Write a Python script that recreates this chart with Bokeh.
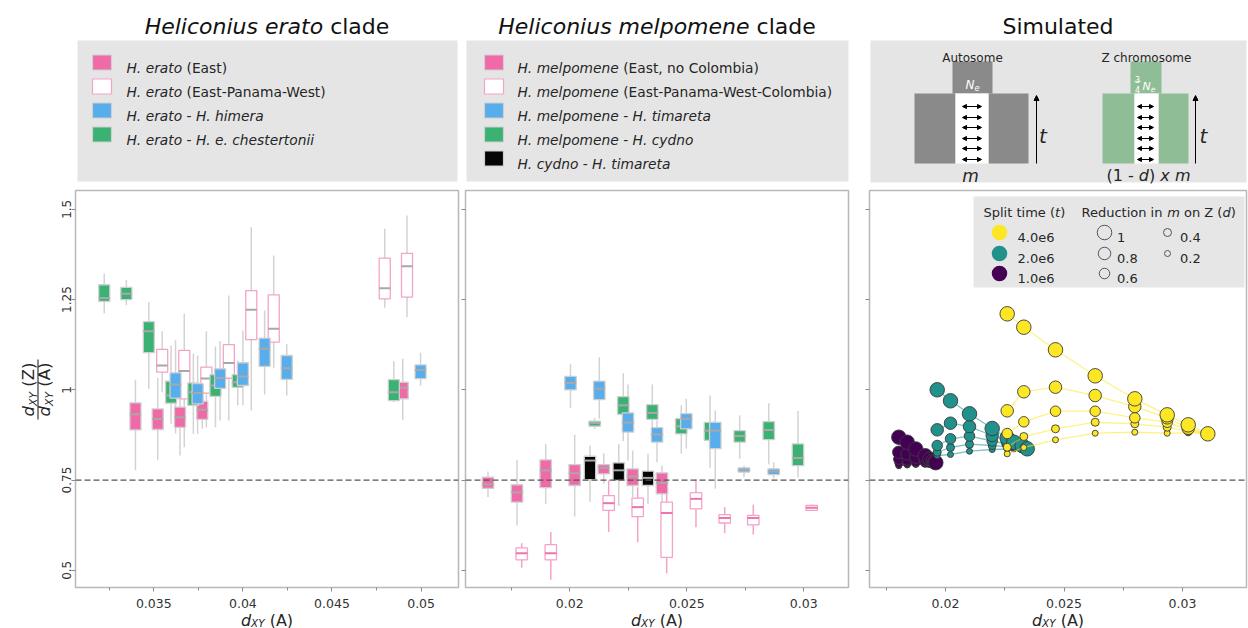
import math
from bokeh.plotting import figure
from bokeh.layouts import row, column
from bokeh.models import (Range1d, FixedTicker, Span, Arrow, NormalHead,
                          ColumnDataSource, CustomJSTickFormatter)
from bokeh.core.properties import value
from bokeh.embed import file_html
from bokeh.resources import INLINE

# ============================ DATA ============================
# box statistics: whisker low, q1, median, q3, whisker high  (ratio dXY(Z)/dXY(A))
# ---- Heliconius erato clade ----
ER_EAST_x   = [0.03397, 0.03522, 0.03647, 0.03772, 0.04897]
ER_EAST_lo  = [0.777, 0.806, 0.818, 0.892, 0.917]
ER_EAST_q1  = [0.889, 0.890, 0.896, 0.918, 0.975]
ER_EAST_med = [0.932, 0.919, 0.924, 0.945, 1.006]
ER_EAST_q3  = [0.964, 0.947, 0.952, 0.968, 1.021]
ER_EAST_hi  = [1.028, 1.033, 1.020, 1.000, 1.086]

ER_EPW_x   = [0.03547, 0.03671, 0.03795, 0.03921, 0.04047, 0.04173, 0.04796, 0.04921]
ER_EPW_lo  = [0.993, 0.841, 0.896, 0.915, 0.943, 1.061, 1.227, 1.201]
ER_EPW_q1  = [1.049, 0.975, 0.991, 1.032, 1.139, 1.132, 1.252, 1.257]
ER_EPW_med = [1.067, 1.052, 1.031, 1.074, 1.222, 1.169, 1.281, 1.342]
ER_EPW_q3  = [1.112, 1.109, 1.063, 1.125, 1.275, 1.263, 1.365, 1.378]
ER_EPW_hi  = [1.162, 1.211, 1.162, 1.261, 1.450, 1.372, 1.446, 1.483]

ER_HIM_x   = [0.03622, 0.03746, 0.03872, 0.04000, 0.04122, 0.04246, 0.04997]
ER_HIM_lo  = [0.879, 0.878, 0.915, 0.957, 0.987, 0.984, 1.012]
ER_HIM_q1  = [0.977, 0.961, 1.004, 1.012, 1.065, 1.029, 1.031]
ER_HIM_med = [1.015, 0.991, 1.033, 1.037, 1.114, 1.060, 1.055]
ER_HIM_q3  = [1.047, 1.017, 1.058, 1.075, 1.143, 1.095, 1.069]
ER_HIM_hi  = [1.137, 1.095, 1.135, 1.164, 1.220, 1.126, 1.103]

ER_CHE_x   = [0.03222, 0.03346, 0.03472, 0.03597, 0.03722, 0.03846, 0.03971, 0.04847]
ER_CHE_lo  = [1.212, 1.234, 1.003, 0.906, 0.878, 0.896, 0.957, 0.966]
ER_CHE_q1  = [1.245, 1.250, 1.103, 0.963, 0.957, 0.982, 1.007, 0.970]
ER_CHE_med = [1.254, 1.266, 1.162, 0.984, 0.993, 1.012, 1.021, 0.993]
ER_CHE_q3  = [1.291, 1.284, 1.189, 1.024, 1.019, 1.042, 1.042, 1.028]
ER_CHE_hi  = [1.322, 1.305, 1.243, 1.123, 1.100, 1.120, 1.081, 1.079]

# ---- Heliconius melpomene clade ----
ME_EAST_x   = [0.016504, 0.017744, 0.018970, 0.020209, 0.021453, 0.022688, 0.023940]
ME_EAST_lo  = [0.703, 0.624, 0.684, 0.649, 0.740, 0.703, 0.661]
ME_EAST_q1  = [0.727, 0.689, 0.729, 0.735, 0.767, 0.735, 0.712]
ME_EAST_med = [0.738, 0.716, 0.777, 0.769, 0.784, 0.760, 0.742]
ME_EAST_q3  = [0.758, 0.737, 0.806, 0.793, 0.793, 0.781, 0.770]
ME_EAST_hi  = [0.774, 0.806, 0.850, 0.876, 0.824, 0.832, 0.790]

ME_EPWC_x   = [0.017945, 0.019188, 0.021662, 0.022902, 0.024141, 0.025393, 0.026620, 0.027842, 0.030338]
ME_EPWC_lo  = [0.507, 0.474, 0.606, 0.578, 0.492, 0.619, 0.603, 0.599, 0.664]
ME_EPWC_q1  = [0.529, 0.529, 0.666, 0.649, 0.536, 0.670, 0.631, 0.626, 0.666]
ME_EPWC_med = [0.547, 0.547, 0.686, 0.675, 0.659, 0.698, 0.645, 0.645, 0.673]
ME_EPWC_q3  = [0.562, 0.571, 0.707, 0.700, 0.689, 0.715, 0.654, 0.652, 0.680]
ME_EPWC_hi  = [0.575, 0.606, 0.749, 0.730, 0.749, 0.752, 0.675, 0.682, 0.682]

ME_TIM_x   = [0.020030, 0.021261, 0.022487, 0.023727, 0.024979, 0.026218, 0.027444, 0.028714]
ME_TIM_lo  = [0.950, 0.920, 0.804, 0.799, 0.837, 0.726, 0.758, 0.754]
ME_TIM_q1  = [1.000, 0.973, 0.883, 0.855, 0.892, 0.837, 0.772, 0.765]
ME_TIM_med = [1.019, 1.003, 0.909, 0.876, 0.920, 0.887, 0.778, 0.774]
ME_TIM_q3  = [1.037, 1.024, 0.936, 0.895, 0.934, 0.910, 0.784, 0.781]
ME_TIM_hi  = [1.072, 1.090, 1.015, 0.915, 0.975, 0.943, 0.790, 0.799]

ME_CYD_x   = [0.021064, 0.022286, 0.023526, 0.024765, 0.025991, 0.027261, 0.028504, 0.029752]
ME_CYD_lo  = [0.892, 0.858, 0.860, 0.823, 0.784, 0.809, 0.793, 0.758]
ME_CYD_q1  = [0.899, 0.932, 0.918, 0.878, 0.860, 0.855, 0.862, 0.790]
ME_CYD_med = [0.908, 0.957, 0.936, 0.899, 0.887, 0.872, 0.889, 0.811]
ME_CYD_q3  = [0.913, 0.981, 0.959, 0.920, 0.910, 0.887, 0.912, 0.850]
ME_CYD_hi  = [0.922, 1.046, 1.015, 0.957, 0.984, 0.929, 0.963, 0.941]

CT_x   = [0.020863, 0.022094, 0.023342]
CT_lo  = [0.689, 0.678, 0.684]
CT_q1  = [0.751, 0.749, 0.735]
CT_med = [0.804, 0.777, 0.756]
CT_q3  = [0.816, 0.798, 0.775]
CT_hi  = [0.846, 0.850, 0.823]

# ---- Simulated ----
SIM_D = [1.0, 0.8, 0.6, 0.4, 0.2]
SIM_T_LABELS = ["4.0e6", "2.0e6", "1.0e6"]

SIM_X_T1 = [0.018030, 0.018384, 0.018747, 0.019148, 0.019346, 0.019473, 0.019549, 0.019591]
SIM_Y_T1 = {
    1.0: [0.8687, 0.8548, 0.8360, 0.8172, 0.8078, 0.8028, 0.8000, 0.7981],
    0.8: [0.8271, 0.8227, 0.8133, 0.8061, 0.8028, 0.8006, 0.7989, 0.7981],
    0.6: [0.8078, 0.8055, 0.8028, 0.8000, 0.7992, 0.7986, 0.7983, 0.7981],
    0.4: [0.7967, 0.7972, 0.7978, 0.7978, 0.7981, 0.7981, 0.7981, 0.7981],
    0.2: [0.7895, 0.7917, 0.7931, 0.7953, 0.7964, 0.7972, 0.7978, 0.7981],
}
SIM_X_T2 = [0.019650, 0.020211, 0.021013, 0.021970, 0.022603, 0.022882, 0.023236, 0.023447]
SIM_Y_T2 = {
    1.0: [1.0000, 0.9695, 0.9335, 0.8928, 0.8670, 0.8548, 0.8457, 0.8366],
    0.8: [0.8892, 0.9075, 0.8983, 0.8734, 0.8582, 0.8499, 0.8429, 0.8366],
    0.6: [0.8457, 0.8643, 0.8720, 0.8582, 0.8499, 0.8449, 0.8407, 0.8366],
    0.4: [0.8271, 0.8402, 0.8493, 0.8457, 0.8429, 0.8402, 0.8382, 0.8366],
    0.2: [0.8180, 0.8208, 0.8299, 0.8346, 0.8360, 0.8366, 0.8366, 0.8366],
}
SIM_X_T4 = [0.022603, 0.023304, 0.024641, 0.026316, 0.027987, 0.029354, 0.030241, 0.031068]
SIM_Y_T4 = {
    1.0: [1.2105, 1.1734, 1.1108, 1.0388, 0.9751, 0.9307, 0.9030, 0.8781],
    0.8: [0.9418, 0.9945, 1.0072, 0.9842, 0.9537, 0.9224, 0.8936, 0.8781],
    0.6: [0.8789, 0.9114, 0.9407, 0.9407, 0.9224, 0.9102, 0.8892, 0.8781],
    0.4: [0.8410, 0.8706, 0.8920, 0.9102, 0.9058, 0.8964, 0.8853, 0.8781],
    0.2: [0.8227, 0.8402, 0.8615, 0.8798, 0.8825, 0.8798, 0.8809, 0.8781],
}

Y_TICKS = [0.5, 0.75, 1.0, 1.25, 1.5]
X_TICKS_ER = [0.035, 0.04, 0.045, 0.05]
X_MINOR_ER = [0.0325, 0.0375, 0.0425, 0.0475]
X_TICKS_ME = [0.02, 0.025, 0.03]
X_MINOR_ME = [0.0175, 0.0225, 0.0275]
REF_LINE = 0.75

# ============================ STYLE ============================
FONT = "DejaVu Sans"
TXT = "#262626"
PINK = "#f06aa8"
PINK_LINE = "#f4a3c8"
PINK_MED = "#ee74ad"
BLUE = "#58adec"
GREEN = "#3bb273"
BLACK = "#050505"
BOX_EDGE = "#cfcfcf"
MED_GRAY = "#a8a8a8"
WHISK = "#d3d3d3"
LEG_BG = "#e5e5e5"
T_COL = {"4.0e6": "#fde725", "2.0e6": "#21918c", "1.0e6": "#440154"}
D_SIZE = {1.0: 14.5, 0.8: 12.5, 0.6: 10.5, 0.4: 8.0, 0.2: 6.0}
CANVAS_H = 628
YR = (0.4524, 1.5521)
FR_TOP, FR_H = 190, 397
BOT = 5             # space under the frames for the tick marks
ROW_A = 185         # height of the title/legend row

CW = {
    ' ': 651, '(': 799, ')': 799, ',': 651, '-': 739, '.': 651, '/': 690,
    'A': 1401, 'B': 1405, 'C': 1430, 'D': 1577, 'E': 1294, 'F': 1178, 'G': 1587, 'H': 1540,
    'I': 604, 'J': 604, 'K': 1343, 'L': 1141, 'M': 1767, 'N': 1532, 'O': 1612, 'P': 1235,
    'Q': 1612, 'R': 1423, 'S': 1300, 'T': 1251, 'U': 1499, 'V': 1401, 'W': 2025, 'X': 1403,
    'Y': 1251, 'Z': 1403,
    'a': 1255, 'b': 1300, 'c': 1126, 'd': 1300, 'e': 1260, 'f': 721, 'g': 1300, 'h': 1298,
    'i': 569, 'j': 569, 'k': 1186, 'l': 569, 'm': 1995, 'n': 1298, 'o': 1253, 'p': 1300,
    'q': 1300, 'r': 842, 's': 1067, 't': 803, 'u': 1298, 'v': 1212, 'w': 1675, 'x': 1212,
    'y': 1212, 'z': 1075,
}
for _d in "0123456789":
    CW[_d] = 1303


def tw(s, px):
    return sum(CW.get(ch, 1250) for ch in s) * px / 2048.0


def layout_pieces(X, Y, pieces, size, align, angle):
    """Returns (text, italic, size, start_x, start_y, width, adv_x, adv_y, up_x, up_y)."""
    widths = [tw(t, size * rs) for (t, it, rs, dd) in pieces]
    total = sum(widths)
    a = -total / 2 if align == "center" else (-total if align == "right" else 0.0)
    ax, ay = math.cos(angle), -math.sin(angle)
    dx, dy = math.sin(angle), math.cos(angle)
    out = []
    for (t, it, rs, dd), w in zip(pieces, widths):
        core = t.strip(" ")
        if core:
            lead = len(t) - len(t.lstrip(" "))
            b = a + tw(" " * lead, size * rs)
            out.append((core, it, size * rs, X + ax * b + dx * dd, Y + ay * b + dy * dd,
                        tw(core, size * rs), ax, ay, -dx, -dy))
        a += w
    return out


def rich_glyph(fig, X, Y, pieces, size, align="left", color=TXT):
    for (t, it, sz, cx, cy, w, *_r) in layout_pieces(X, Y, pieces, size, align, 0.0):
        fig.text(x=[cx], y=[CANVAS_H - cy], text=[t],
                 text_font=value(FONT), text_font_size=value(f"{sz:.2f}px"),
                 text_font_style=value("italic" if it else "normal"),
                 text_align=value("left"), text_baseline=value("alphabetic"),
                 text_color=color)


def rich_vertical(fig, X, Y, pieces, size, color=TXT):
    # text rotated 90 degrees counter-clockwise (reads bottom to top), centred on Y;
    # every piece is anchored at its own centre so that the rotation pivots on it
    for (t, it, sz, sx, sy, w, ax, ay, ux, uy) in layout_pieces(X, Y, pieces, size, "center", math.pi / 2):
        cx = sx + ax * w / 2 + ux * 0.35 * sz
        cy = sy + ay * w / 2 + uy * 0.35 * sz
        fig.text(x=[cx], y=[CANVAS_H - cy], text=[t], angle=math.pi / 2,
                 text_font=value(FONT), text_font_size=value(f"{sz:.2f}px"),
                 text_font_style=value("italic" if it else "normal"),
                 text_align=value("center"), text_baseline=value("middle"),
                 text_color=color)


def rich_glyph_mapped(fig, X, Y, pieces, size, mx, my, align="left", color=TXT):
    for (t, it, sz, cx, cy, w, *_r) in layout_pieces(X, Y, pieces, size, align, 0.0):
        fig.text(x=[mx(cx)], y=[my(cy)], text=[t],
                 text_font=value(FONT), text_font_size=value(f"{sz:.2f}px"),
                 text_font_style=value("italic" if it else "normal"),
                 text_align=value("left"), text_baseline=value("alphabetic"),
                 text_color=color)


# ============================ decoration figures (canvas pixel coordinates) ============================
def deco(x0, y0, w, h):
    f = figure(width=w, height=h, x_range=Range1d(x0, x0 + w),
               y_range=Range1d(CANVAS_H - (y0 + h), CANVAS_H - y0), output_backend="svg",
               toolbar_location=None, min_border=0,
               x_axis_location=None, y_axis_location=None)
    f.grid.visible = False
    f.outline_line_color = None
    return f


cy_ = lambda Y: CANVAS_H - Y

LEFT_LEGEND = [
    ([("H. erato", True, 1, 0), (" (East)", False, 1, 0)], PINK, BOX_EDGE),
    ([("H. erato", True, 1, 0), (" (East-Panama-West)", False, 1, 0)], "white", PINK_LINE),
    ([("H. erato", True, 1, 0), (" - ", False, 1, 0), ("H. himera", True, 1, 0)], BLUE, BOX_EDGE),
    ([("H. erato", True, 1, 0), (" - ", False, 1, 0), ("H. e. chestertonii", True, 1, 0)], GREEN, BOX_EDGE),
]
MID_LEGEND = [
    ([("H. melpomene", True, 1, 0), (" (East, no Colombia)", False, 1, 0)], PINK, BOX_EDGE),
    ([("H. melpomene", True, 1, 0), (" (East-Panama-West-Colombia)", False, 1, 0)], "white", PINK_LINE),
    ([("H. melpomene", True, 1, 0), (" - ", False, 1, 0), ("H. timareta", True, 1, 0)], BLUE, BOX_EDGE),
    ([("H. melpomene", True, 1, 0), (" - ", False, 1, 0), ("H. cydno", True, 1, 0)], GREEN, BOX_EDGE),
    ([("H. cydno", True, 1, 0), (" - ", False, 1, 0), ("H. timareta", True, 1, 0)], BLACK, BOX_EDGE),
]

t1 = deco(0, 0, 460, ROW_A)
rich_glyph(t1, 266.5, 26, [("Heliconius erato", True, 1, 0), (" clade", False, 1, 0)], 22,
           align="center", color="#111111")
t1.quad(left=[77], right=[457], top=[cy_(40)], bottom=[cy_(181)], fill_color=LEG_BG, line_color=None)
for i, (pieces, fc, lc) in enumerate(LEFT_LEGEND):
    yc = 62 + 24 * i
    t1.quad(left=[92], right=[111], top=[cy_(yc - 7.5)], bottom=[cy_(yc + 7.5)],
            fill_color=fc, line_color=lc, line_width=1.2)
    rich_glyph(t1, 126, yc + 5, pieces, 13.8)

t2 = deco(460, 0, 400, ROW_A)
rich_glyph(t2, 656.5, 26, [("Heliconius melpomene", True, 1, 0), (" clade", False, 1, 0)], 22,
           align="center", color="#111111")
t2.quad(left=[466], right=[848], top=[cy_(40)], bottom=[cy_(181)], fill_color=LEG_BG, line_color=None)
for i, (pieces, fc, lc) in enumerate(MID_LEGEND):
    yc = 62 + 24 * i
    t2.quad(left=[484], right=[503], top=[cy_(yc - 7.5)], bottom=[cy_(yc + 7.5)],
            fill_color=fc, line_color=lc, line_width=1.2)
    rich_glyph(t2, 517, yc + 5, pieces, 13.8)

t3 = deco(860, 0, 388, ROW_A)
rich_glyph(t3, 1057.5, 26, [("Simulated", False, 1, 0)], 22, align="center", color="#111111")
t3.quad(left=[870], right=[1246], top=[cy_(40)], bottom=[cy_(182)], fill_color=LEG_BG, line_color=None)
GRAY_POP = "#8a8a8a"
GREEN_POP = "#8fbd95"
t3.quad(left=[952, 914, 988], right=[992, 955, 1028], top=[cy_(61), cy_(93), cy_(93)],
        bottom=[cy_(93), cy_(163), cy_(163)], fill_color=GRAY_POP, line_color=None)
t3.quad(left=[955], right=[988], top=[cy_(93)], bottom=[cy_(163)], fill_color="white", line_color=None)
t3.quad(left=[1130, 1102, 1158], right=[1161, 1134, 1188], top=[cy_(61), cy_(93), cy_(93)],
        bottom=[cy_(93), cy_(163), cy_(163)], fill_color=GREEN_POP, line_color=None)
t3.quad(left=[1134], right=[1158], top=[cy_(93)], bottom=[cy_(163)], fill_color="white", line_color=None)
rich_glyph(t3, 972, 57.5, [("Autosome", False, 1, 0)], 12, align="center")
rich_glyph(t3, 1146, 57.5, [("Z chromosome", False, 1, 0)], 12, align="center")
rich_glyph(t3, 972, 84, [("N", True, 1, 0), ("e", True, 0.7, 2.5)], 12, align="center", color="white")
rich_glyph(t3, 1137, 79, [("3", False, 1, 0)], 8, align="center", color="white")
rich_glyph(t3, 1137, 88.5, [("4", False, 1, 0)], 8, align="center", color="white")
t3.segment(x0=[1134], y0=[cy_(80.8)], x1=[1140], y1=[cy_(80.8)], line_color="white", line_width=0.8)
rich_glyph(t3, 1142, 86, [("N", True, 1, 0), ("e", True, 0.7, 2.5)], 11, color="white")
rich_glyph(t3, 970, 175, [("m", True, 1, 0)], 17, align="center")
rich_glyph(t3, 1148, 175, [("(1 - ", False, 1, 0), ("d", True, 1, 0), (") ", False, 1, 0),
                           ("x", True, 1, 0), (" ", False, 1, 0), ("m", True, 1, 0)], 16,
           align="center")
rich_glyph(t3, 1042.5, 135, [("t", True, 1, 0)], 20, align="center")
rich_glyph(t3, 1203, 135, [("t", True, 1, 0)], 20, align="center")
ARW_Y = [106, 117, 127, 138, 148, 159]
arr_src = ColumnDataSource(dict(
    x0=[962] * 6 + [1137] * 6, x1=[981] * 6 + [1153] * 6,
    y0=[cy_(v) for v in ARW_Y] * 2, y1=[cy_(v) for v in ARW_Y] * 2))
t3.add_layout(Arrow(start=NormalHead(size=4, line_color="black", fill_color="black"),
                    end=NormalHead(size=4, line_color="black", fill_color="black"),
                    x_start="x0", y_start="y0", x_end="x1", y_end="y1", source=arr_src,
                    line_width=1, line_color="black"))
for ax_ in (1036, 1195):
    t3.add_layout(Arrow(end=NormalHead(size=5, line_color="black", fill_color="black"),
                        x_start=ax_, y_start=cy_(163), x_end=ax_, y_end=cy_(95),
                        line_width=1, line_color="black"))

# y-axis label figure (fraction), spanning the panel and x-label rows
F0_W = 56
f0 = deco(0, ROW_A, F0_W, CANVAS_H - ROW_A)
FRAC = 16.5
rich_vertical(f0, 34, 389, [("d", True, 1, 0), ("XY", True, 0.65, 3.0), (" (Z)", False, 1, 0)], FRAC)
rich_vertical(f0, 50, 389, [("d", True, 1, 0), ("XY", True, 0.65, 3.0), (" (A)", False, 1, 0)], FRAC)
f0.segment(x0=[37.5], y0=[cy_(359)], x1=[37.5], y1=[cy_(419)], line_color=TXT, line_width=1.1)


# ============================ PANELS ============================
def panel(xr, bl, fw, br, xticks, xminor, show_ylabels):
    p = figure(frame_width=fw, frame_height=FR_H, x_range=Range1d(*xr), y_range=Range1d(*YR),
               min_border_left=bl, min_border_right=br, min_border_top=FR_TOP - ROW_A,
               min_border_bottom=BOT, output_backend="svg", toolbar_location=None)
    p.grid.visible = False
    p.outline_line_color = "#b8b8b8"
    p.outline_line_width = 1.5
    p.xaxis.ticker = FixedTicker(ticks=xticks, minor_ticks=xminor)
    p.yaxis.ticker = FixedTicker(ticks=Y_TICKS, minor_ticks=[])
    for ax in (p.xaxis[0], p.yaxis[0]):
        ax.axis_line_color = None
        ax.major_tick_out = 4
        ax.major_tick_in = 0
        ax.minor_tick_out = 3
        ax.minor_tick_in = 0
        ax.major_tick_line_color = "#8c8c8c"
        ax.minor_tick_line_color = "#8c8c8c"
        ax.major_label_text_font = FONT
        ax.major_label_text_font_size = "12px"
        ax.major_label_text_color = "#333333"
        ax.major_label_standoff = 0
    # x tick labels are written in the label row below the panel
    p.xaxis.formatter = CustomJSTickFormatter(code="return '';")
    p.xaxis.major_label_text_font_size = "0px"
    if show_ylabels:
        p.yaxis.formatter = CustomJSTickFormatter(code="return String(tick);")
        p.yaxis.major_label_orientation = "vertical"
    else:
        p.yaxis.formatter = CustomJSTickFormatter(code="return '';")
        p.yaxis.major_label_text_font_size = "0px"
    p.add_layout(Span(location=REF_LINE, dimension="width", line_color="#555555",
                      line_dash="6 3", line_width=1.3))
    return p


def whiskers(p, x, lo, q1, q3, hi, color):
    p.segment(x0=x, y0=lo, x1=x, y1=q1, line_color=color, line_width=1.5)
    p.segment(x0=x, y0=q3, x1=x, y1=hi, line_color=color, line_width=1.5)


def boxes(p, x, q1, med, q3, w, fill, edge, medc):
    xl = [v - w / 2 for v in x]
    xrr = [v + w / 2 for v in x]
    p.vbar(x=x, width=w, bottom=q1, top=q3, fill_color=fill, line_color=edge, line_width=1.3)
    p.segment(x0=xl, y0=med, x1=xrr, y1=med, line_color=medc, line_width=2)


# ---- left panel ----
XR1 = (0.030606, 0.052099)
p1 = panel(XR1, 75 - F0_W, 383, 2, X_TICKS_ER, X_MINOR_ER, True)
W1 = 0.00062
whiskers(p1, ER_EAST_x, ER_EAST_lo, ER_EAST_q1, ER_EAST_q3, ER_EAST_hi, WHISK)
whiskers(p1, ER_EPW_x, ER_EPW_lo, ER_EPW_q1, ER_EPW_q3, ER_EPW_hi, WHISK)
whiskers(p1, ER_CHE_x, ER_CHE_lo, ER_CHE_q1, ER_CHE_q3, ER_CHE_hi, WHISK)
whiskers(p1, ER_HIM_x, ER_HIM_lo, ER_HIM_q1, ER_HIM_q3, ER_HIM_hi, WHISK)
boxes(p1, ER_EAST_x, ER_EAST_q1, ER_EAST_med, ER_EAST_q3, W1, PINK, BOX_EDGE, MED_GRAY)
boxes(p1, ER_EPW_x, ER_EPW_q1, ER_EPW_med, ER_EPW_q3, W1, "white", PINK_LINE, MED_GRAY)
boxes(p1, ER_CHE_x, ER_CHE_q1, ER_CHE_med, ER_CHE_q3, W1, GREEN, BOX_EDGE, MED_GRAY)
boxes(p1, ER_HIM_x, ER_HIM_q1, ER_HIM_med, ER_HIM_q3, W1, BLUE, BOX_EDGE, MED_GRAY)

# ---- middle panel ----
XR2 = (0.015543, 0.031911)
p2 = panel(XR2, 5, 383, 12, X_TICKS_ME, X_MINOR_ME, False)
W2 = 0.00049
whiskers(p2, ME_EAST_x, ME_EAST_lo, ME_EAST_q1, ME_EAST_q3, ME_EAST_hi, WHISK)
whiskers(p2, ME_EPWC_x, ME_EPWC_lo, ME_EPWC_q1, ME_EPWC_q3, ME_EPWC_hi, PINK_LINE)
whiskers(p2, ME_CYD_x, ME_CYD_lo, ME_CYD_q1, ME_CYD_q3, ME_CYD_hi, WHISK)
whiskers(p2, ME_TIM_x, ME_TIM_lo, ME_TIM_q1, ME_TIM_q3, ME_TIM_hi, WHISK)
whiskers(p2, CT_x, CT_lo, CT_q1, CT_q3, CT_hi, WHISK)
boxes(p2, ME_EAST_x, ME_EAST_q1, ME_EAST_med, ME_EAST_q3, W2, PINK, BOX_EDGE, MED_GRAY)
boxes(p2, ME_EPWC_x, ME_EPWC_q1, ME_EPWC_med, ME_EPWC_q3, W2, "white", PINK_LINE, PINK_MED)
boxes(p2, ME_CYD_x, ME_CYD_q1, ME_CYD_med, ME_CYD_q3, W2, GREEN, BOX_EDGE, MED_GRAY)
boxes(p2, ME_TIM_x, ME_TIM_q1, ME_TIM_med, ME_TIM_q3, W2, BLUE, BOX_EDGE, MED_GRAY)
boxes(p2, CT_x, CT_q1, CT_med, CT_q3, W2, BLACK, BOX_EDGE, MED_GRAY)

# ---- right panel (simulated) ----
XR3 = (0.016793, 0.032700)
P3_X0, P3_W = 869, 377
p3 = panel(XR3, 9, P3_W, 2, X_TICKS_ME, X_MINOR_ME, False)
for tlab, xs, ys in [("1.0e6", SIM_X_T1, SIM_Y_T1), ("2.0e6", SIM_X_T2, SIM_Y_T2),
                     ("4.0e6", SIM_X_T4, SIM_Y_T4)]:
    col = T_COL[tlab]
    for d in SIM_D:
        p3.line(xs, ys[d], line_color=col, line_alpha=0.55, line_width=1.3)
    for d in sorted(SIM_D):
        p3.scatter(xs, ys[d], size=D_SIZE[d], fill_color=col, line_color="#3a3a3a", line_width=0.9)

# legend of the simulated panel (placed in canvas pixels, mapped to the panel's data space)
m3x = lambda X: XR3[0] + (X - P3_X0) / P3_W * (XR3[1] - XR3[0])
m3y = lambda Y: YR[1] - (Y - FR_TOP) / FR_H * (YR[1] - YR[0])
p3.quad(left=[m3x(973)], right=[m3x(1244)], top=[m3y(196)], bottom=[m3y(287)],
        fill_color=LEG_BG, fill_alpha=0.95, line_color=None)
rich_glyph_mapped(p3, 983, 211.7, [("Split time (", False, 1, 0), ("t", True, 1, 0), (")", False, 1, 0)],
                  13, m3x, m3y)
rich_glyph_mapped(p3, 1081, 211.7, [("Reduction in ", False, 1, 0), ("m", True, 1, 0),
                                    (" on Z (", False, 1, 0), ("d", True, 1, 0), (")", False, 1, 0)],
                  13, m3x, m3y)
LEG_ROWS = [232, 253, 273]
p3.scatter([m3x(999)] * 3, [m3y(v) for v in LEG_ROWS], size=15.5,
           fill_color=[T_COL[t] for t in SIM_T_LABELS], line_color=None)
for t, yv in zip(SIM_T_LABELS, LEG_ROWS):
    rich_glyph_mapped(p3, 1017, yv + 4.7, [(t, False, 1, 0)], 13, m3x, m3y)
SIZE_POS = [(1104, 232), (1104, 253), (1104, 273), (1167, 232), (1167, 253)]
p3.scatter([m3x(a) for a, b in SIZE_POS], [m3y(b) for a, b in SIZE_POS],
           size=[D_SIZE[d] for d in SIM_D], fill_color=None, line_color="#555555", line_width=1)
for d, (a, b) in zip(SIM_D, SIZE_POS):
    lab = "1" if d == 1.0 else f"{d:.1f}"
    rich_glyph_mapped(p3, a + 12.5, b + 4.7, [(lab, False, 1, 0)], 13, m3x, m3y)

# ---- tick-label / x-axis-label row (shares each panel's x scale) ----
ROW_C_Y = FR_TOP + FR_H + BOT
ROW_C_H = CANVAS_H - ROW_C_Y
XLAB = [("d", True, 1, 0), ("XY", True, 0.65, 2.5), (" (A)", False, 1, 0)]
TICK_BASE = 603.3
XLAB_BASE = 620


def label_row(xr, fx0, bl, fw, br, ticks):
    f = figure(frame_width=fw, frame_height=ROW_C_H, x_range=Range1d(*xr),
               y_range=Range1d(CANVAS_H - (ROW_C_Y + ROW_C_H), CANVAS_H - ROW_C_Y),
               min_border_left=bl, min_border_right=br, min_border_top=0, min_border_bottom=0,
               x_axis_location=None, y_axis_location=None,
               output_backend="svg", toolbar_location=None)
    f.grid.visible = False
    f.outline_line_color = None
    f.text(x=ticks, y=[cy_(TICK_BASE)] * len(ticks), text=[str(t) for t in ticks],
           text_font=value(FONT), text_font_size=value("12.5px"), text_color="#333333",
           text_align=value("center"), text_baseline=value("alphabetic"))
    mx = lambda X: xr[0] + (X - fx0) / fw * (xr[1] - xr[0])
    rich_glyph_mapped(f, fx0 + fw / 2, XLAB_BASE, XLAB, 16, mx, cy_, align="center")
    return f


l1 = label_row(XR1, 75, 75 - F0_W, 383, 2, X_TICKS_ER)
l2 = label_row(XR2, 465, 5, 383, 12, X_TICKS_ME)
l3 = label_row(XR3, 869, 9, 377, 2, X_TICKS_ME)

layout = column(row(t1, t2, t3),
                row(f0, column(row(p1, p2, p3), row(l1, l2, l3))))
open("out.html", "w").write(file_html(layout, INLINE))
